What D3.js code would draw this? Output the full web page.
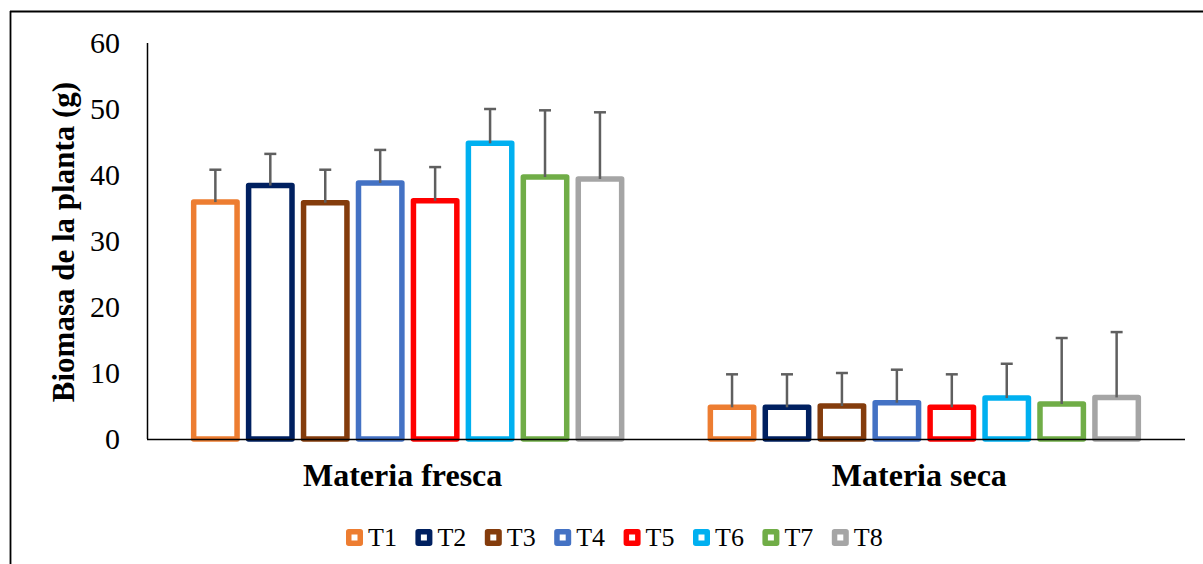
<!DOCTYPE html>
<html>
<head>
<meta charset="utf-8">
<script src="https://cdn.jsdelivr.net/npm/d3@7"></script>
<style>
  html, body { margin: 0; padding: 0; background: #fff; }
  svg { display: block; }
  text { font-family: "Liberation Serif", "Times New Roman", Times, "DejaVu Serif", serif; }
</style>
</head>
<body>
<svg id="chart" width="1203" height="564"></svg>
<script>
const categories = ["Materia fresca", "Materia seca"];
const series = ["T1", "T2", "T3", "T4", "T5", "T6", "T7", "T8"];
const colors = ["#ED7D31", "#002060", "#843C0C", "#4472C4", "#FF0000", "#00B0F0", "#70AD47", "#A5A5A5"];
const frescaValues = [35.9, 38.4, 35.8, 38.8, 36.1, 44.8, 39.7, 39.4];
const frescaErrors = [4.9, 4.8, 5.0, 5.0, 5.1, 5.2, 10.1, 10.1];
const secaValues = [4.8, 4.8, 5.0, 5.5, 4.8, 6.2, 5.3, 6.3];
const secaErrors = [5.0, 5.0, 5.0, 5.0, 5.0, 5.2, 10.0, 9.9];
const yTicks = [0, 10, 20, 30, 40, 50, 60];
const yTitle = "Biomasa de la planta (g)";

(function () {
const FONT = "'Liberation Serif', 'Times New Roman', Times, serif";
const svg = d3.select("#chart");

svg.append("line").attr("x1", 10).attr("x2", 1203).attr("y1", 11.5).attr("y2", 11.5)
  .attr("stroke", "#000").attr("stroke-width", 1.8);
svg.append("line").attr("x1", 10.5).attr("x2", 10.5).attr("y1", 11).attr("y2", 564)
  .attr("stroke", "#000").attr("stroke-width", 1.8);

const pLeft = 147, pRight = 1185, pTop = 43, pBottom = 439;

const y = d3.scaleLinear().domain([0, 60]).range([pBottom, pTop]);
const x0 = d3.scaleBand().domain(categories).range([pLeft, pRight]).paddingInner(0.161).paddingOuter(0.085);
const x1 = d3.scaleBand().domain(series).range([0, x0.bandwidth()]).paddingInner(0.11).paddingOuter(0);

const data = [];
categories.forEach((c, ci) => {
  const vals = ci === 0 ? frescaValues : secaValues;
  const errs = ci === 0 ? frescaErrors : secaErrors;
  series.forEach((s, si) => {
    data.push({ cat: c, s, v: vals[si], e: errs[si], color: colors[si] });
  });
});

svg.append("g").selectAll("text").data(yTicks).join("text")
  .attr("x", 120).attr("y", d => y(d)).attr("dy", "0.34em")
  .attr("text-anchor", "end").attr("font-size", 30).attr("font-family", FONT).attr("fill", "#000")
  .text(d => d);

svg.append("line").attr("x1", pLeft + 0.5).attr("x2", pLeft + 0.5).attr("y1", pTop).attr("y2", pBottom)
  .attr("stroke", "#000").attr("stroke-width", 1.5);

const sw = 5.5;
svg.append("g").selectAll("rect").data(data).join("rect")
  .attr("x", d => x0(d.cat) + x1(d.s) + sw / 2)
  .attr("width", x1.bandwidth() - sw)
  .attr("y", d => y(d.v))
  .attr("height", d => y(0) - y(d.v))
  .attr("fill", "#fff")
  .attr("stroke", d => d.color)
  .attr("stroke-width", sw)
  .attr("stroke-linejoin", "round");

svg.append("line").attr("x1", pLeft).attr("x2", pRight).attr("y1", pBottom + 0.5).attr("y2", pBottom + 0.5)
  .attr("stroke", "#000").attr("stroke-width", 1.5);

const eg = svg.append("g").attr("stroke", "#5f5f5f").attr("stroke-width", 2.5);
data.forEach(d => {
  const cx = x0(d.cat) + x1(d.s) + x1.bandwidth() / 2;
  eg.append("line").attr("x1", cx).attr("x2", cx).attr("y1", y(d.v)).attr("y2", y(d.v + d.e));
  eg.append("line").attr("x1", cx - 6).attr("x2", cx + 6).attr("y1", y(d.v + d.e)).attr("y2", y(d.v + d.e));
});

svg.append("g").selectAll("text").data(categories).join("text")
  .attr("x", d => x0(d) + x0.bandwidth() / 2 - 5)
  .attr("y", 486)
  .attr("text-anchor", "middle").attr("font-size", 32).attr("font-weight", "bold").attr("font-family", FONT)
  .text(d => d);

svg.append("text")
  .attr("transform", "translate(74,242) rotate(-90)")
  .attr("text-anchor", "middle").attr("font-size", 31).attr("font-weight", "bold").attr("font-family", FONT)
  .text(yTitle);

const lg = svg.append("g");
const legX0 = 346, legStep = 69.4, legY = 537.5;
series.forEach((s, i) => {
  const gx = legX0 + i * legStep;
  lg.append("rect").attr("x", gx + 2.75).attr("y", legY - 5.75).attr("width", 11.5).attr("height", 11.5)
    .attr("fill", "#fff").attr("stroke", colors[i]).attr("stroke-width", 5.5).attr("stroke-linejoin", "round");
  lg.append("text").attr("x", gx + 22).attr("y", 546)
    .attr("font-size", 26).attr("font-family", FONT).attr("fill", "#000").text(s);
});
})();
</script>
</body>
</html>
